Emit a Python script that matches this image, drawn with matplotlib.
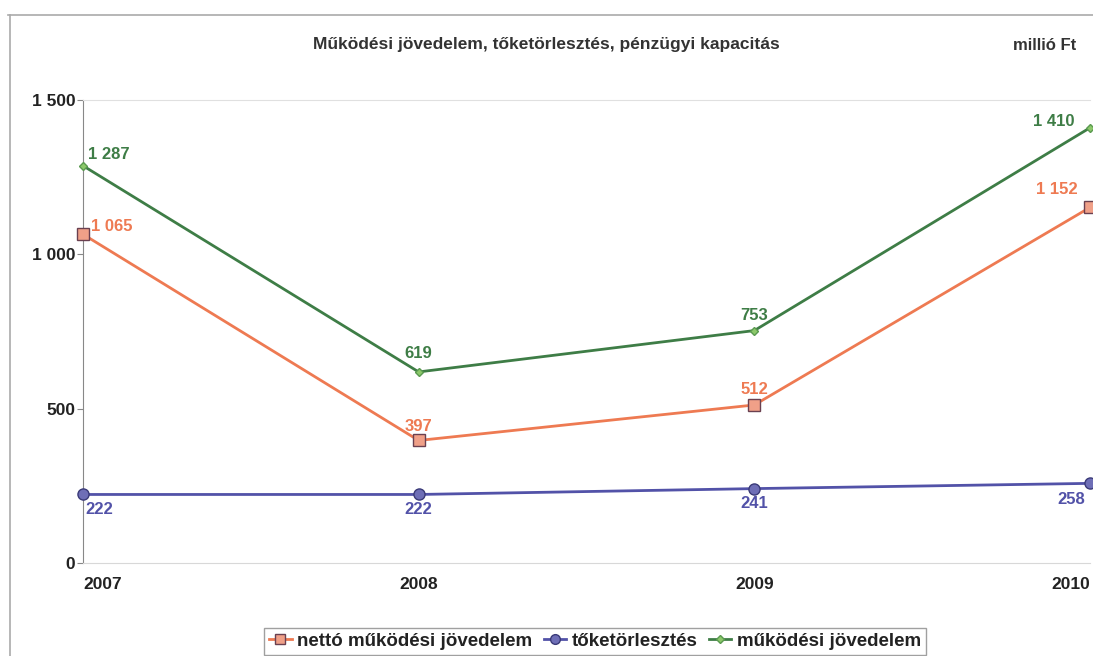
import matplotlib.pyplot as plt
from matplotlib.lines import Line2D

# adatok, millió Ft
evek = [2007, 2008, 2009, 2010]
netto = [1065, 397, 512, 1152]
toketorlesztes = [222, 222, 241, 258]
mukodesi = [1287, 619, 753, 1410]

cim = "Működési jövedelem, tőketörlesztés, pénzügyi kapacitás"
mertekegyseg = "millió Ft"
nevek = ["nettó működési jövedelem", "tőketörlesztés", "működési jövedelem"]


def ezres(v):
    return "{:,}".format(v).replace(",", " ")


plt.rcParams['font.family'] = ['Liberation Sans', 'DejaVu Sans']

fig = plt.figure(figsize=(10.93, 6.56), dpi=100)
ax = fig.add_axes([83 / 1093, 1 - 563 / 656, 1007 / 1093, 463 / 656])

narancs = '#ee7a52'
kek = '#5252a8'
zold = '#3e7d46'

ax.plot(evek, netto, color=narancs, lw=2, marker='s', ms=8,
        mfc='#f0a088', mec='#6a4050', mew=1, clip_on=False, zorder=3)
ax.plot(evek, toketorlesztes, color=kek, lw=2, marker='o', ms=8,
        mfc='#6e6eb6', mec='#3a3a78', mew=1, clip_on=False, zorder=3)
ax.plot(evek, mukodesi, color=zold, lw=2, marker='D', ms=4,
        mfc='#8cc86a', mec='#5a9a50', mew=1, clip_on=False, zorder=3)

# feliratok eltolása pixelben: (dx, dy, igazítás)
poz_zold = [(5, 11, 'left'), (0, 18, 'center'), (0, 15, 'center'), (-15, 6, 'right')]
poz_narancs = [(8, 8, 'left'), (0, 14, 'center'), (0, 15, 'center'), (-12, 18, 'right')]
poz_kek = [(2, -15, 'left'), (0, -15, 'center'), (0, -15, 'center'), (-5, -16, 'right')]

for sor, poz, szin in [(mukodesi, poz_zold, zold), (netto, poz_narancs, narancs),
                       (toketorlesztes, poz_kek, kek)]:
    for x, y, (dx, dy, ha) in zip(evek, sor, poz):
        ax.annotate(ezres(y), (x, y), xytext=(dx, dy), textcoords='offset pixels',
                    ha=ha, va='center', fontsize=12, fontweight='bold',
                    color=szin, annotation_clip=False)

ax.set_xlim(2007, 2010)
ax.set_ylim(0, 1500)
ax.set_yticks([0, 500, 1000, 1500])
ax.set_yticklabels([ezres(v) for v in [0, 500, 1000, 1500]],
                   fontsize=12.5, fontweight='bold', color='#222222')
ax.set_xticks(evek)
ax.set_xticklabels([str(e) for e in evek], fontsize=12.5, fontweight='bold', color='#222222')
# első felirat balra, utolsó jobbra igazítva
for lab, ha in zip(ax.get_xticklabels(), ['left', 'center', 'center', 'right']):
    lab.set_horizontalalignment(ha)
ax.tick_params(axis='x', length=0, pad=10)
ax.tick_params(axis='y', length=4, color='#888888', pad=1.5)

ax.spines['left'].set_color('#888888')
ax.spines['bottom'].set_color('#d8d8d8')
ax.spines['top'].set_color('#e0e0e0')
ax.spines['right'].set_visible(False)

fig.text(546 / 1093, 1 - 45 / 656, cim, ha='center', va='center',
         fontsize=12.5, fontweight='bold', color='#333333',
         family=['Liberation Sans Narrow', 'Liberation Sans'])
fig.text(1045 / 1093, 1 - 45 / 656, mertekegyseg, ha='center', va='center',
         fontsize=12, fontweight='bold', color='#333333',
         family=['Liberation Sans Narrow', 'Liberation Sans'])

# külső keret
fig.add_artist(Line2D([8 / 1093, 1], [1 - 15 / 656, 1 - 15 / 656],
                      transform=fig.transFigure, color='#aaaaaa', lw=1.2))
fig.add_artist(Line2D([10 / 1093, 10 / 1093], [0, 1 - 15 / 656],
                      transform=fig.transFigure, color='#aaaaaa', lw=1.2))

kezelok = [
    Line2D([], [], color=narancs, lw=2, marker='s', ms=7, mfc='#f0a088', mec='#6a4050'),
    Line2D([], [], color=kek, lw=2, marker='o', ms=7, mfc='#6e6eb6', mec='#3a3a78'),
    Line2D([], [], color=zold, lw=2, marker='D', ms=4, mfc='#8cc86a', mec='#5a9a50'),
]
leg = fig.legend(kezelok, nevek, loc='upper center', bbox_to_anchor=(595 / 1093, 1 - 628 / 656),
                 ncol=3, frameon=True, fancybox=False, edgecolor='#888888',
                 handlelength=1.2, handletextpad=0.3, columnspacing=0.6,
                 borderpad=0.25, borderaxespad=0, prop={'size': 13.5, 'weight': 'bold'})
leg.get_frame().set_linewidth(1)
for t in leg.get_texts():
    t.set_color('#222222')

fig.savefig('out.png', dpi=100)
